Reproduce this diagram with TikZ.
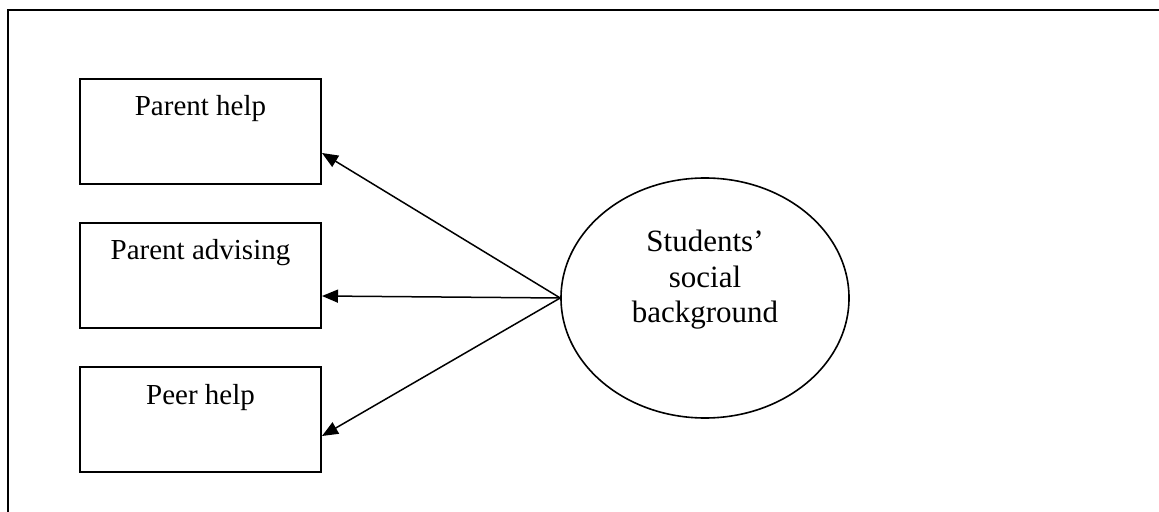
\documentclass[tikz,border=0pt]{standalone}
\usepackage{fontspec}
\setmainfont{Liberation Serif}
\usetikzlibrary{arrows.meta,shapes.geometric,calc}

\begin{document}
\begin{tikzpicture}[x=0.5pt,y=-0.5pt,
  outerframe/.style={line width=1pt},
  itembox/.style={draw,line width=1pt,minimum width=120.5pt,minimum height=52.5pt,inner sep=0pt},
  boxlabel/.style={font=\fontsize{14.5pt}{17pt}\selectfont,inner sep=0pt,anchor=base},
  factor/.style={draw,ellipse,line width=0.8pt,minimum width=144pt,minimum height=120pt,inner sep=0pt},
  factorlabel/.style={font=\fontsize{15.5pt}{17.75pt}\selectfont,align=center,inner sep=0pt},
  link/.style={line width=0.75pt,-{Triangle[length=8pt,width=6.5pt]}}]

\useasboundingbox (0,0) rectangle (1159,512);
\clip (0,0) rectangle (1159,512);

% page frame, running past the right and bottom edges
\draw[outerframe] (8,530) -- (8,10) -- (1180,10);

% indicator boxes
\node[itembox] (p1) at (200.5,131.5) {};
\node[itembox] (p2) at (200.5,275.5) {};
\node[itembox] (p3) at (200.5,419.5) {};
\node[boxlabel] (t1) at ([yshift=-19pt]p1.north) {Parent help};
\node[boxlabel] (t2) at ([yshift=-19pt]p2.north) {Parent advising};
\node[boxlabel] (t3) at ([yshift=-19pt]p3.north) {Peer help};

% latent factor
\node[factor] (bg) at (705,298) {};
\node[factorlabel] (bgt) at (705,280) {Students’\\social\\background};

% paths from the factor to its indicators
\draw[link] (bg.west) -- ([yshift=16pt]p1.south east);
\draw[link] (bg.west) -- ([yshift=16.5pt]p2.south east);
\draw[link] (bg.west) -- ([yshift=18.5pt]p3.south east);
\end{tikzpicture}
\end{document}
